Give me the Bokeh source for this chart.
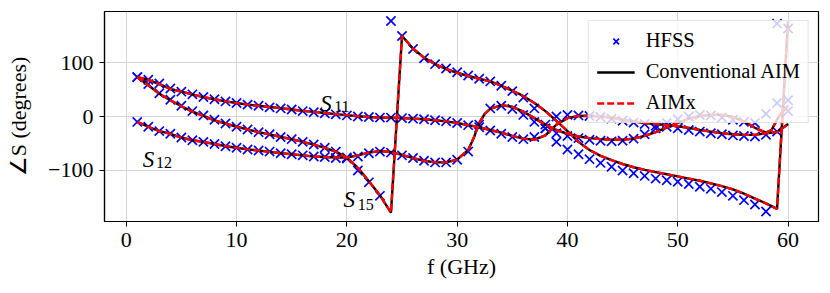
from bokeh.plotting import figure
from bokeh.models import Range1d, FixedTicker, Legend, LegendItem, ColumnDataSource
from bokeh.core.properties import value
from bokeh.embed import file_html
from bokeh.resources import INLINE

# ---------------- data ----------------
freq_hfss = list(range(1, 61))

s11_hfss = [73, 68, 61, 52, 46, 41, 36, 32, 28, 25, 22, 20, 17, 15, 13, 10, 8, 6, 4, 2,
            0, -1, -2, -2, -3, -4, -5, -7, -9, -12, -16, -20, -26, -32, -38, -42, -38, -15, 0, 3,
            2, 1, -1, -4, -8, -11, -14, -17, -19, -22, -25, -28, -31, -33, -35, -36, -37, -34, -28, 10]
s12_hfss = [-10, -19, -27, -32, -39, -44, -47, -51, -55, -58, -61, -63, -65, -68, -70, -72, -74, -75, -77, -78,
            -74, -68, -65, -67, -72, -77, -82, -85, -85, -80, -65, -15, 15, 20, 14, 3, -10, -22, -31, -36,
            -40, -43, -45, -46, -45, -41, -33, -22, -12, -5, 0, 3, 2, -2, -6, -10, -12, 5, 25, 30]
s15_hfss = [73, 60, 43, 31, 20, 10, 2, -6, -13, -19, -24, -29, -33, -38, -42, -47, -52, -58, -65, -76,
            -100, -122, -147, 177, 149, 125, 108, 97, 89, 82, 76, 70, 65, 57, 47, 35, 15, -22, -47, -61,
            -70, -79, -86, -93, -100, -105, -110, -115, -118, -121, -125, -130, -134, -140, -147, -155, -163, -176, 172, 163]

s11_line_f = list(range(1, 61))
s11_line = [73, 68, 60, 51, 46, 41, 36, 32, 28, 25, 22, 20, 17.5, 15.5, 13, 10.5, 8.5, 6.5, 4.5, 2.5,
            0.5, -1, -2, -2, -3, -4, -5, -7, -9, -12, -16, -20, -25, -30, -36, -41, -43, -35, -15, -3,
            1, 1.5, 0, -2, -6, -9, -12, -14, -16, -18, -21, -25, -28, -31, -33, -34, -34, -31, -29, -14]

s12_line_f = [1, 2, 3, 4, 5, 6, 7, 8, 9, 10, 11, 12, 13, 14, 15, 16, 17, 18, 19, 20,
              21, 22, 23, 24, 25, 26, 27, 28, 29, 30, 31, 31.5, 32, 32.5, 33, 34, 35, 36, 37, 38,
              39, 40, 41, 42, 43, 44, 45, 46, 47, 48, 49, 50, 51, 52, 53, 54, 55, 56, 57, 58,
              58.5, 59, 59.3, 60]
s12_line = [-10, -19, -27, -32, -39, -44, -47, -51, -55, -58, -61, -63, -65.5, -68, -70, -72, -74, -75, -76, -76,
            -72, -67, -64, -66, -71, -77, -82, -85, -85, -80, -62, -40, -12, 5, 14, 21, 18, 9, -3, -15,
            -25, -32, -37, -40, -42, -43, -43, -41, -36, -29, -20, -12, -4, 1, 3, 3, -1, -9, -21, -30,
            -25, -6, 4, 20]

s15_line_f = list(range(1, 61))
s15_line = [73, 58, 42, 30, 19, 9, 1, -7, -13, -19, -24, -29, -33, -38, -42, -47, -52, -58, -65, -76,
            -95, -120, -146, -178, 149, 126, 109, 97, 88, 81, 75, 70, 65, 57, 48, 38, 25, 10, -8, -27,
            -47, -62, -73, -81, -88, -94, -99, -103, -107, -111, -115, -119, -124, -129, -135, -143, -152, -161, -171, 177]

x_ticks = [0, 10, 20, 30, 40, 50, 60]
y_ticks = [-100, 0, 100]
legend_labels = ["HFSS", "Conventional AIM", "AIMx"]

# ---------------- figure ----------------
FONT = "Liberation Serif"

p = figure(width=822, height=285, output_backend="svg", toolbar_location=None,
           x_range=Range1d(-1.97, 62.76), y_range=Range1d(-194.5, 194.5))
p.min_border_left = 104
p.min_border_right = 4
p.min_border_top = 11
p.min_border_bottom = 64

p.outline_line_color = "black"
p.outline_line_width = 1.2
p.background_fill_color = "white"
p.border_fill_color = "white"

for ax in (p.xaxis[0], p.yaxis[0]):
    ax.axis_line_color = "black"
    ax.axis_line_width = 1.2
    ax.major_tick_line_color = "black"
    ax.major_tick_out = 5
    ax.major_tick_in = 0
    ax.minor_tick_line_color = None
    ax.major_label_text_font = FONT
    ax.major_label_text_font_size = "22px"
    ax.major_label_text_color = "black"
    ax.axis_label_text_font = FONT
    ax.axis_label_text_font_size = "22px"
    ax.axis_label_text_font_style = "normal"
    ax.axis_label_text_color = "black"

p.xaxis.ticker = FixedTicker(ticks=x_ticks)
p.yaxis.ticker = FixedTicker(ticks=y_ticks)
p.yaxis.major_label_overrides = {t: (str(t).replace("-", "\u2212")) for t in y_ticks}
p.xaxis.major_label_standoff = 6
p.yaxis.major_label_standoff = 6
p.xaxis.axis_label = "f (GHz)"
p.yaxis.axis_label = "\u2220S (degrees)"
p.xaxis.axis_label_standoff = 4
p.yaxis.axis_label_standoff = 14

p.xgrid.ticker = FixedTicker(ticks=x_ticks)
p.ygrid.ticker = FixedTicker(ticks=y_ticks)
p.grid.grid_line_color = "#d4d4d4"
p.grid.grid_line_width = 1

# ---------------- glyphs ----------------
marker_r = None
for vals in (s11_hfss, s12_hfss, s15_hfss):
    r = p.scatter(freq_hfss, vals, marker="x", size=13, line_color="#0000ff", line_width=1.7)
    marker_r = marker_r or r

black_r = None
red_r = None
for fx, vals in ((s11_line_f, s11_line), (s12_line_f, s12_line), (s15_line_f, s15_line)):
    b = p.line(fx, vals, line_color="black", line_width=2.4)
    black_r = black_r or b
for fx, vals in ((s11_line_f, s11_line), (s12_line_f, s12_line), (s15_line_f, s15_line)):
    rr = p.line(fx, vals, line_color="#ff0000", line_width=2.4, line_dash="7 3")
    red_r = red_r or rr

# curve labels  S_11, S_12, S_15
lab = ColumnDataSource(dict(x=[17.6, 1.5, 19.7], y=[23.6, -79, -153], t=["S", "S", "S"]))
sub = ColumnDataSource(dict(x=[18.85, 2.7, 21.0], y=[18.0, -86, -162.5], t=["11", "12", "15"]))
p.text(x="x", y="y", text="t", source=lab, text_font=value(FONT), text_font_style="italic",
       text_font_size="23px", text_color="black", text_baseline="alphabetic", text_align="left")
p.text(x="x", y="y", text="t", source=sub, text_font=value(FONT),
       text_font_size="16px", text_color="black", text_baseline="alphabetic", text_align="left")

legend = Legend(items=[LegendItem(label=legend_labels[0], renderers=[marker_r]),
                       LegendItem(label=legend_labels[1], renderers=[black_r]),
                       LegendItem(label=legend_labels[2], renderers=[red_r])],
                location="top_right")
legend.margin = 9
legend.padding = 8
legend.spacing = 8
legend.glyph_width = 38
legend.glyph_height = 20
legend.label_height = 20
legend.label_standoff = 11
legend.label_text_font = FONT
legend.label_text_font_size = "20.5px"
legend.label_text_color = "black"
legend.border_line_color = "#cccccc"
legend.border_line_width = 1
legend.background_fill_color = "white"
legend.background_fill_alpha = 0.8
p.add_layout(legend)

open("out.html", "w").write(file_html(p, INLINE))
